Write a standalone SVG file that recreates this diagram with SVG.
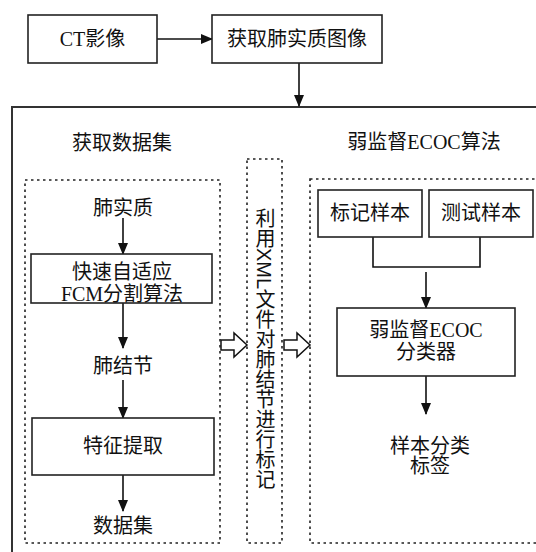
<svg xmlns="http://www.w3.org/2000/svg" width="536" height="552" viewBox="0 0 536 552">
<style>
text{font-family:"Liberation Serif","Noto Sans CJK SC",serif;font-size:20px;fill:#111;text-anchor:middle;dominant-baseline:central}
.box{fill:#fff;stroke:#222;stroke-width:1.6}
.dot{fill:none;stroke:#222;stroke-width:1.6;stroke-dasharray:2.5 3.5}
.ln{fill:none;stroke:#111;stroke-width:1.6}
.hollow{fill:#fff;stroke:#111;stroke-width:1.5}
.vt{font-family:"Liberation Sans","Noto Sans CJK SC",sans-serif;writing-mode:vertical-rl;text-anchor:start;dominant-baseline:auto}
</style>
<defs>
<marker id="ah" markerUnits="userSpaceOnUse" markerWidth="12" markerHeight="10" refX="11" refY="5" orient="auto">
<path d="M0,0 L12,5 L0,10 Z" fill="#111"/>
</marker>
</defs>
<rect x="12" y="107" width="540" height="460" fill="none" stroke="#333" stroke-width="2"/>
<g id="connectors">
<line class="ln" x1="157" y1="39" x2="212" y2="39" marker-end="url(#ah)"/>
<line class="ln" x1="299" y1="63" x2="299" y2="106" marker-end="url(#ah)"/>
<line class="ln" x1="123" y1="218" x2="123" y2="254" marker-end="url(#ah)"/>
<line class="ln" x1="123" y1="303" x2="123" y2="348" marker-end="url(#ah)"/>
<line class="ln" x1="123" y1="380" x2="123" y2="418" marker-end="url(#ah)"/>
<line class="ln" x1="123" y1="475" x2="123" y2="511" marker-end="url(#ah)"/>
<path class="ln" d="M373,237 V267 H480 V237"/>
<line class="ln" x1="426" y1="272" x2="426" y2="308" marker-end="url(#ah)"/>
<line class="ln" x1="426" y1="376" x2="426" y2="414" marker-end="url(#ah)"/>
<polygon class="hollow" points="221,340 234,340 234,333 247,345 234,357 234,350 221,350"/>
<polygon class="hollow" points="284,340 297,340 297,333 310,345 297,357 297,350 284,350"/>
</g>
<g id="ct"><rect class="box" x="28" y="15" width="129" height="48"/><text x="92.5" y="39">CT影像</text></g>
<g id="lung-img"><rect class="box" x="212" y="15" width="170" height="48"/><text x="297" y="39">获取肺实质图像</text></g>
<g id="title-left"><text x="122" y="143">获取数据集</text></g>
<g id="title-right"><text x="424" y="142">弱监督ECOC算法</text></g>
<g id="left-panel"><rect class="dot" x="25" y="180" width="195" height="363"/></g>
<g id="mid-panel"><rect class="dot" x="247" y="159" width="35" height="384"/>
<text class="vt" x="264" y="208">利用XML文件对肺结节进行标记</text></g>
<g id="right-panel"><rect class="dot" x="310" y="179" width="240" height="364"/></g>
<g id="lung"><text x="123" y="208">肺实质</text></g>
<g id="fcm"><rect class="box" x="31" y="254" width="181" height="49"/><text x="122" y="272">快速自适应</text><text x="122" y="294">FCM分割算法</text></g>
<g id="nodule"><text x="123" y="366">肺结节</text></g>
<g id="feature"><rect class="box" x="32" y="418" width="182" height="57"/><text x="123" y="446">特征提取</text></g>
<g id="dataset"><text x="123" y="526">数据集</text></g>
<g id="labeled"><rect class="box" x="318" y="190" width="104" height="47"/><text x="370" y="213">标记样本</text></g>
<g id="test"><rect class="box" x="429" y="190" width="104" height="47"/><text x="481" y="213">测试样本</text></g>
<g id="ecoc"><rect class="box" x="337" y="308" width="178" height="68"/><text x="426" y="330">弱监督ECOC</text><text x="426" y="352">分类器</text></g>
<g id="result"><text x="430" y="446">样本分类</text><text x="430" y="466">标签</text></g>
</svg>
